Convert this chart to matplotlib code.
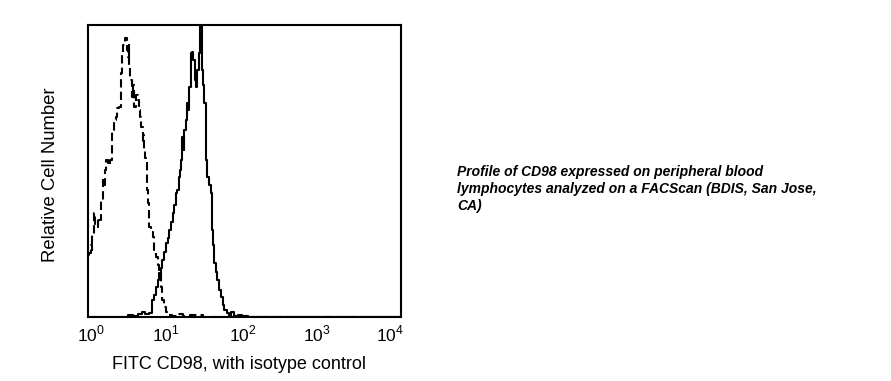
#!/usr/bin/env python3
"""
FACS histogram: CD98 staining vs isotype control.
"""

import numpy as np
import matplotlib
matplotlib.use('Agg')
import matplotlib.pyplot as plt
import matplotlib.transforms as mtransforms

# 1024-channel log scale (4 decades, 256 channels per decade)
iso_channel = [0, 7, 10, 13, 16, 23, 26, 29, 36, 39, 46, 49, 52, 56, 62, 69, 78, 82,
               88, 95, 98, 105, 108, 111, 114, 118, 121, 124, 128, 131, 134, 137, 141,
               144, 147, 150, 154, 160, 164, 167, 170, 177, 180, 183, 186, 190, 193,
               196, 199, 203, 209, 213, 219, 226, 232, 235, 242, 245, 252, 258, 268,
               284, 301, 317, 350, 399, 1023]
iso_count = [31, 32, 36, 33.5, 41, 52, 46, 45, 49.5, 48.5, 58.5, 68.5, 66, 73.5, 78.5,
             76, 78.5, 93.5, 98.5, 100, 104.5, 105, 112, 122, 132, 136, 138.5, 139.5,
             133.5, 130, 136, 125, 118.5, 115, 110, 116, 105, 111, 108.5, 103.5, 100,
             95, 87, 91, 83.5, 79.5, 78.5, 63.5, 57, 45, 42.5, 40, 33.5, 30, 26, 22, 15,
             8.5, 5, 2.5, 1, 0.5, 1.5, 0.5, 1, 0, 0]

cd98_channel = [0, 121, 137, 154, 170, 180, 193, 203, 213, 219, 226, 229, 235, 242,
                245, 252, 258, 265, 268, 275, 278, 285, 291, 294, 301, 304, 307, 311,
                314, 317, 324, 327, 330, 334, 337, 340, 343, 347, 350, 353, 356, 360,
                363, 366, 369, 373, 376, 379, 383, 386, 389, 392, 399, 405, 409, 412,
                415, 422, 425, 432, 438, 445, 448, 458, 464, 474, 484, 497, 513, 530,
                1023]
cd98_count = [0, 0, 1, 0.5, 1.5, 2.5, 1.5, 2, 8.5, 11, 15, 18.5, 22, 24.5, 28.5, 32.5,
              37, 39.5, 43.5, 47.5, 52, 56, 62, 63.5, 70, 73.5, 78.5, 90, 83.5, 93.5,
              98.5, 107, 103.5, 115, 126, 132, 132.5, 128.5, 123.5, 118.5, 115, 123.5,
              128.5, 132, 155, 155, 123.5, 116, 107, 96, 78.5, 70, 66, 62, 43.5, 36, 27,
              22.5, 18.5, 13.5, 10, 6, 3.5, 2, 0.5, 2.5, 0.5, 1, 0.5, 0, 0]

x_ticks = [1, 10, 100, 1000, 10000]
x_tick_labels = ['$10^{0}$', '$10^{1}$', '$10^{2}$', '$10^{3}$', '$10^{4}$']

caption = ('Profile of CD98 expressed on peripheral blood\n'
           'lymphocytes analyzed on a FACScan (BDIS, San Jose,\n'
           'CA)')


def main():
    plt.rcParams['font.family'] = ['Liberation Sans', 'DejaVu Sans']
    plt.rcParams['mathtext.fontset'] = 'custom'
    plt.rcParams['mathtext.rm'] = 'Liberation Sans'

    fig = plt.figure(figsize=(8.91, 3.81), dpi=100)
    ax = fig.add_axes([88 / 891, 64 / 381, 313 / 891, 292 / 381])

    iso_x = 10 ** (np.array(iso_channel) / 256.0)
    cd98_x = 10 ** (np.array(cd98_channel) / 256.0)

    ax.plot(iso_x, iso_count, color='black', linewidth=1.5,
            linestyle=(0, (4, 2)), drawstyle='steps-mid')
    ax.plot(cd98_x, cd98_count, color='black', linewidth=1.5,
            drawstyle='steps-mid')

    ax.set_xscale('log')
    ax.set_xlim(1, 10000)
    ax.set_ylim(0, 146)
    ax.set_xticks(x_ticks)
    ax.set_xticklabels(x_tick_labels, fontsize=12.5)
    ax.minorticks_off()
    ax.set_yticks([])
    ax.tick_params(axis='x', length=0, pad=5)

    # the original labels sit slightly off their tick positions
    shifts = [3, 0, -2, -6, -11]
    for lbl, dx in zip(ax.get_xticklabels(), shifts):
        lbl.set_transform(lbl.get_transform() +
                          mtransforms.ScaledTranslation(dx / 100, 0, fig.dpi_scale_trans))

    for spine in ax.spines.values():
        spine.set_linewidth(1.5)
        spine.set_color('black')

    ax.set_xlabel('FITC CD98, with isotype control', fontsize=13)
    ax.xaxis.set_label_coords(0.482, -0.132)
    ax.set_ylabel('Relative Cell Number', fontsize=13.3)
    ax.yaxis.set_label_coords(-0.092, 0.486)

    fig.text(457 / 891, 1 - 189 / 381, caption, fontsize=10, fontweight='bold',
             fontstyle='italic', va='center', ha='left', linespacing=1.27)

    fig.savefig('out.png', dpi=100)
    plt.close(fig)


if __name__ == "__main__":
    main()
